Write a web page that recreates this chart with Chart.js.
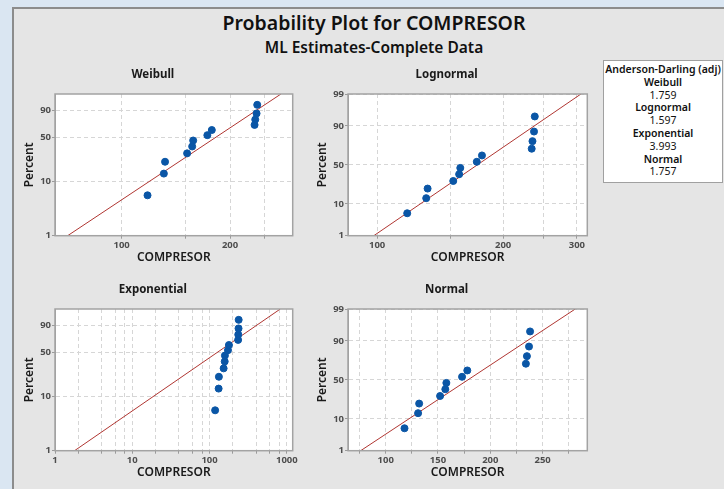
<!DOCTYPE html>
<html>
<head>
<meta charset="utf-8">
<script src="https://cdn.jsdelivr.net/npm/chart.js@4.4.0/dist/chart.umd.min.js"></script>
<style>
  html, body { margin: 0; padding: 0; }
  body { width: 724px; height: 489px; overflow: hidden; position: relative; background: #dae6f2; font-family: 'Noto Sans', sans-serif; }
  #frame { position: absolute; left: 12px; top: 7px; width: 712px; height: 482px; background: #e5e5e5;
           border-left: 2px solid #8c8c8c; border-top: 2px solid #8c8c8c; box-sizing: border-box; }
  #title { position: absolute; left: 13px; width: 722px; top: 10px; text-align: center; font-size: 19.5px; font-weight: 600; color: #111; line-height: 26px; }
  #subtitle { position: absolute; left: 13px; width: 722px; top: 37px; text-align: center; font-size: 15.5px; font-weight: 600; color: #111; line-height: 20px; }
  .panel { position: absolute; width: 293px; height: 215px; }
  #adbox { position: absolute; left: 603px; top: 60px; width: 120px; height: 123px; box-sizing: border-box;
           background: #fff; border: 1px solid #a0a0a0; text-align: center; font-size: 10.5px; line-height: 12.8px; color: #111; padding-top: 2px; }
  #adbox .h { font-weight: 600; }
</style>
</head>
<body>
<div id="frame"></div>
<div id="title">Probability Plot for COMPRESOR</div>
<div id="subtitle">ML Estimates-Complete Data</div>
<div class="panel" style="left:13px;top:60px"><canvas id="weibull" width="293" height="215"></canvas></div>
<div class="panel" style="left:306px;top:60px"><canvas id="lognormal" width="293" height="215"></canvas></div>
<div class="panel" style="left:13px;top:275px"><canvas id="exponential" width="293" height="215"></canvas></div>
<div class="panel" style="left:306px;top:275px"><canvas id="normal" width="293" height="215"></canvas></div>
<div id="adbox"></div>
<script>
// datos
const compresor = [118, 131, 132, 152, 157, 158, 173, 178, 234, 235, 237, 238];
const percent = [5.6, 13.7, 21.8, 29.8, 37.9, 46.0, 54.0, 62.1, 70.2, 78.2, 86.3, 94.4];

// rectas de ajuste: valor de COMPRESOR en 1% y 99%
const fitPercent = [1, 99];
const weibullFit = [70.8, 277];
const lognormalFit = [98.2, 306.8];
const exponentialFit = [1.79, 822];
const normalFit = [76.1, 281.2];

// ticks
const percentTicks = [1, 10, 50, 90, 99];
const percentTicksSev = [1, 10, 50, 90];
const weibullXGrid = [100, 150, 200, 250];
const weibullXLabels = [100, 200];
const lognormalXGrid = [100, 150, 200, 250, 300];
const lognormalXLabels = [100, 200, 300];
const exponentialXGrid = [1, 2, 4, 6, 8, 10, 20, 40, 60, 80, 100, 200, 400, 600, 800, 1000];
const exponentialXLabels = [1, 10, 100, 1000];
const normalXGrid = [75, 100, 125, 150, 175, 200, 225, 250, 275];
const normalXLabels = [100, 150, 200, 250];

// Anderson-Darling
const adNames = ['Weibull', 'Lognormal', 'Exponential', 'Normal'];
const adValues = ['1.759', '1.597', '3.993', '1.757'];

const FONT = 'Noto Sans';

// inversa de la normal (Acklam)
function probit(p) {
    const a = [-3.969683028665376e+01, 2.209460984245205e+02, -2.759285104469687e+02, 1.383577518672690e+02, -3.066479806614716e+01, 2.506628277459239e+00];
    const b = [-5.447609879822406e+01, 1.615858368580409e+02, -1.556989798598866e+02, 6.680131188771972e+01, -1.328068155288572e+01];
    const c = [-7.784894002430293e-03, -3.223964580411365e-01, -2.400758277161838e+00, -2.549732539343734e+00, 4.374664141464968e+00, 2.938163982698783e+00];
    const d = [7.784695709041462e-03, 3.224671290700398e-01, 2.445134137142996e+00, 3.754408661907416e+00];
    const pl = 0.02425;
    let q, r;
    if (p < pl) {
        q = Math.sqrt(-2 * Math.log(p));
        return (((((c[0]*q+c[1])*q+c[2])*q+c[3])*q+c[4])*q+c[5]) / ((((d[0]*q+d[1])*q+d[2])*q+d[3])*q+1);
    }
    if (p > 1 - pl) {
        q = Math.sqrt(-2 * Math.log(1 - p));
        return -(((((c[0]*q+c[1])*q+c[2])*q+c[3])*q+c[4])*q+c[5]) / ((((d[0]*q+d[1])*q+d[2])*q+d[3])*q+1);
    }
    q = p - 0.5; r = q * q;
    return (((((a[0]*r+a[1])*r+a[2])*r+a[3])*r+a[4])*r+a[5])*q / (((((b[0]*r+b[1])*r+b[2])*r+b[3])*r+b[4])*r+1);
}
const normalPct = v => probit(v / 100);
const sevPct = v => Math.log(-Math.log(1 - v / 100));

// fondo blanco y marco del area del grafico
const plotFrame = {
    id: 'plotFrame',
    beforeDraw(chart) {
        const a = chart.chartArea, ctx = chart.ctx;
        ctx.save();
        ctx.fillStyle = '#ffffff';
        ctx.fillRect(a.left, a.top, a.right - a.left, a.bottom - a.top);
        ctx.restore();
    },
    afterDraw(chart) {
        const a = chart.chartArea, ctx = chart.ctx;
        ctx.save();
        ctx.strokeStyle = '#a3a3a3';
        ctx.lineWidth = 1.5;
        ctx.strokeRect(a.left, a.top, a.right - a.left, a.bottom - a.top);
        ctx.restore();
    }
};

function makePanel(id, title, cfg) {
    const tf = cfg.tf;
    const pts = compresor.map((x, i) => ({ x: x, y: tf(percent[i]) }));
    const line = cfg.fit.map((x, i) => ({ x: x, y: tf(fitPercent[i]) }));
    const tickFont = { family: FONT, size: 9.5, weight: 'bold' };
    new Chart(document.getElementById(id), {
        type: 'scatter',
        data: {
            datasets: [{
                data: pts,
                backgroundColor: '#0a56a6',
                borderColor: '#0a56a6',
                pointRadius: 3.5,
                pointHoverRadius: 3.5
            }, {
                type: 'line',
                data: line,
                borderColor: '#b03632',
                borderWidth: 1,
                pointRadius: 0,
                fill: false
            }]
        },
        options: {
            responsive: false,
            animation: false,
            events: [],
            layout: { padding: { left: 0, right: cfg.padRight, top: 0, bottom: 0 }, autoPadding: false },
            plugins: {
                legend: { display: false },
                tooltip: { enabled: false },
                title: {
                    display: true,
                    text: title,
                    color: '#1a1a1a',
                    font: { family: FONT, size: 11.5, weight: 'bold' },
                    padding: { top: 8, bottom: 12.2 }
                }
            },
            scales: {
                x: {
                    type: cfg.xType,
                    position: 'bottom',
                    min: cfg.xMin,
                    max: cfg.xMax,
                    afterBuildTicks: s => { s.ticks = cfg.xGrid.map(v => ({ value: v })); },
                    afterFit: s => { s.height = 39.3; },
                    ticks: {
                        autoSkip: false,
                        maxRotation: 0,
                        padding: 1,
                        color: '#4d4d4d',
                        font: tickFont,
                        callback: v => cfg.xLabels.includes(v) ? String(v) : ''
                    },
                    grid: { color: '#d6d6d6', tickLength: 3, tickColor: '#9a9a9a' },
                    border: { color: '#a3a3a3', dash: [4, 3] },
                    title: {
                        display: true,
                        text: 'COMPRESOR',
                        color: '#1a1a1a',
                        font: { family: FONT, size: 12, weight: '600' },
                        padding: { top: 0, bottom: 10.1 }
                    }
                },
                y: {
                    type: 'linear',
                    min: tf(1),
                    max: tf(99),
                    afterBuildTicks: s => { s.ticks = cfg.yTicks.map(v => ({ value: tf(v) })); },
                    afterFit: s => { s.width = 42; },
                    ticks: {
                        autoSkip: false,
                        padding: 1,
                        color: '#4d4d4d',
                        font: tickFont,
                        callback: (v, i) => String(cfg.yTicks[i])
                    },
                    grid: { color: '#d6d6d6', tickLength: 3, tickColor: '#9a9a9a' },
                    border: { color: '#a3a3a3', dash: [4, 3] },
                    title: {
                        display: true,
                        text: 'Percent',
                        color: '#1a1a1a',
                        font: { family: FONT, size: 12, weight: '600' },
                        padding: { top: 9, bottom: 0 }
                    }
                }
            }
        },
        plugins: [plotFrame]
    });
}

makePanel('weibull', 'Weibull', {
    tf: sevPct, fit: weibullFit, xType: 'logarithmic', xMin: 65.3, xMax: 298.6,
    xGrid: weibullXGrid, xLabels: weibullXLabels, yTicks: percentTicksSev, padRight: 13.3
});
makePanel('lognormal', 'Lognormal', {
    tf: normalPct, fit: lognormalFit, xType: 'logarithmic', xMin: 85.2, xMax: 317.7,
    xGrid: lognormalXGrid, xLabels: lognormalXLabels, yTicks: percentTicks, padRight: 11.7
});
makePanel('exponential', 'Exponential', {
    tf: sevPct, fit: exponentialFit, xType: 'logarithmic', xMin: 1, xMax: 1190,
    xGrid: exponentialXGrid, xLabels: exponentialXLabels, yTicks: percentTicksSev, padRight: 13.3
});
makePanel('normal', 'Normal', {
    tf: normalPct, fit: normalFit, xType: 'linear', xMin: 64, xMax: 292.7,
    xGrid: normalXGrid, xLabels: normalXLabels, yTicks: percentTicks, padRight: 11.7
});

// cuadro Anderson-Darling
const box = document.getElementById('adbox');
let html = '<div class="h">Anderson-Darling (adj)</div>';
adNames.forEach((n, i) => { html += '<div class="h">' + n + '</div><div>' + adValues[i] + '</div>'; });
box.innerHTML = html;
</script>
</body>
</html>
